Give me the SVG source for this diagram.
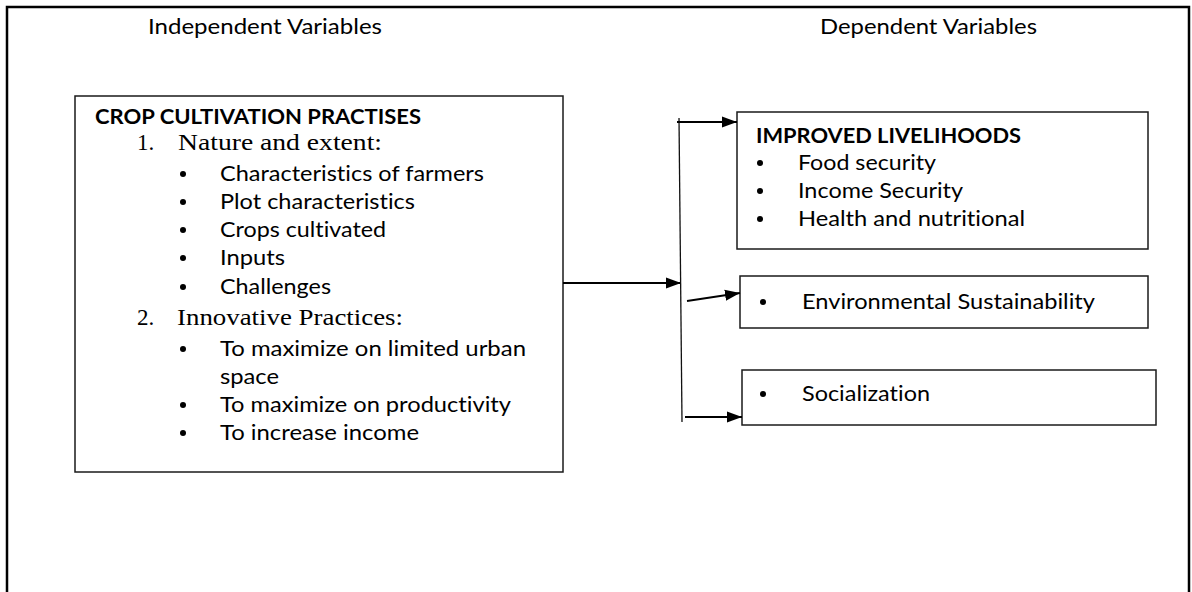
<svg xmlns="http://www.w3.org/2000/svg" width="1192" height="592" viewBox="0 0 1192 592">
  <style>
    .frame { fill: none; stroke: #000; stroke-width: 2.5; }
    .box { fill: #fff; stroke: #1a1a1a; stroke-width: 1.5; }
    .sans { font-family: Lato, "Open Sans", "Liberation Sans", sans-serif; font-size: 21.5px; fill: #000; font-variant-ligatures: none; }
    .bold { font-weight: bold; }
    .serif { font-family: "Liberation Serif", "Times New Roman", serif; font-size: 23px; fill: #000; }
    .dot { fill: #000; }
    .wire { fill: none; stroke: #000; stroke-width: 2; }
    .stem { fill: none; stroke: #111; stroke-width: 1.3; }
  </style>
  <defs>
    <marker id="arrow" markerUnits="userSpaceOnUse" markerWidth="15" markerHeight="12" refX="15" refY="6" orient="auto">
      <path d="M0,0.5 L15,6 L0,11.5 Z" fill="#000"/>
    </marker>
  </defs>

  <rect width="1192" height="592" fill="#fff"/>

  <!-- outer page frame (open at the bottom edge) -->
  <rect class="frame" x="7" y="7" width="1182" height="640"/>

  <!-- column headings -->
  <text class="sans" x="148" y="34" textLength="234" lengthAdjust="spacingAndGlyphs">Independent Variables</text>
  <text class="sans" x="820" y="34" textLength="217" lengthAdjust="spacingAndGlyphs">Dependent Variables</text>

  <!-- independent variable block -->
  <g id="crop-practises">
    <rect class="box" x="75" y="96" width="488" height="376"/>
    <text class="sans bold" x="95" y="124" textLength="326" lengthAdjust="spacingAndGlyphs">CROP CULTIVATION PRACTISES</text>
    <text class="serif" x="137" y="150">1.</text>
    <text class="serif" x="178" y="150" textLength="204" lengthAdjust="spacingAndGlyphs">Nature and extent:</text>
    <circle class="dot" cx="183" cy="174" r="3"/>
    <text class="sans" x="220" y="181" textLength="264" lengthAdjust="spacingAndGlyphs">Characteristics of farmers</text>
    <circle class="dot" cx="183" cy="202" r="3"/>
    <text class="sans" x="220" y="209" textLength="195" lengthAdjust="spacingAndGlyphs">Plot characteristics</text>
    <circle class="dot" cx="183" cy="230" r="3"/>
    <text class="sans" x="220" y="237" textLength="166" lengthAdjust="spacingAndGlyphs">Crops cultivated</text>
    <circle class="dot" cx="183" cy="258" r="3"/>
    <text class="sans" x="220" y="265" textLength="65" lengthAdjust="spacingAndGlyphs">Inputs</text>
    <circle class="dot" cx="183" cy="287" r="3"/>
    <text class="sans" x="220" y="294" textLength="111" lengthAdjust="spacingAndGlyphs">Challenges</text>
    <text class="serif" x="137" y="325">2.</text>
    <text class="serif" x="177" y="325" textLength="226" lengthAdjust="spacingAndGlyphs">Innovative Practices:</text>
    <circle class="dot" cx="183" cy="349" r="3"/>
    <text class="sans" x="220" y="356" textLength="306" lengthAdjust="spacingAndGlyphs">To maximize on limited urban</text>
    <text class="sans" x="220" y="384" textLength="59" lengthAdjust="spacingAndGlyphs">space</text>
    <circle class="dot" cx="183" cy="405" r="3"/>
    <text class="sans" x="220" y="412" textLength="291" lengthAdjust="spacingAndGlyphs">To maximize on productivity</text>
    <circle class="dot" cx="183" cy="433" r="3"/>
    <text class="sans" x="220" y="440" textLength="199" lengthAdjust="spacingAndGlyphs">To increase income</text>
  </g>

  <!-- dependent variable blocks -->
  <g id="improved-livelihoods">
    <rect class="box" x="737" y="112" width="411" height="137"/>
    <text class="sans bold" x="756" y="143" textLength="265" lengthAdjust="spacingAndGlyphs">IMPROVED LIVELIHOODS</text>
    <circle class="dot" cx="760" cy="163" r="3"/>
    <text class="sans" x="798" y="170" textLength="138" lengthAdjust="spacingAndGlyphs">Food security</text>
    <circle class="dot" cx="760" cy="191" r="3"/>
    <text class="sans" x="798" y="198" textLength="165" lengthAdjust="spacingAndGlyphs">Income Security</text>
    <circle class="dot" cx="760" cy="219" r="3"/>
    <text class="sans" x="798" y="226" textLength="227" lengthAdjust="spacingAndGlyphs">Health and nutritional</text>
  </g>

  <g id="environmental-sustainability">
    <rect class="box" x="740" y="276" width="408" height="52"/>
    <circle class="dot" cx="763" cy="302" r="3"/>
    <text class="sans" x="802" y="309" textLength="293" lengthAdjust="spacingAndGlyphs">Environmental Sustainability</text>
  </g>

  <g id="socialization">
    <rect class="box" x="742" y="370" width="414" height="55"/>
    <circle class="dot" cx="763" cy="394" r="3"/>
    <text class="sans" x="802" y="401" textLength="128" lengthAdjust="spacingAndGlyphs">Socialization</text>
  </g>

  <!-- connectors -->
  <g id="connectors">
    <line class="wire" x1="563" y1="283" x2="681" y2="283" marker-end="url(#arrow)"/>
    <line class="stem" x1="679" y1="118" x2="682" y2="422"/>
    <line class="wire" x1="677" y1="122" x2="737" y2="122" marker-end="url(#arrow)"/>
    <line class="wire" x1="687" y1="301" x2="740" y2="293" marker-end="url(#arrow)"/>
    <line class="wire" x1="685" y1="417" x2="742" y2="417" marker-end="url(#arrow)"/>
  </g>
</svg>
